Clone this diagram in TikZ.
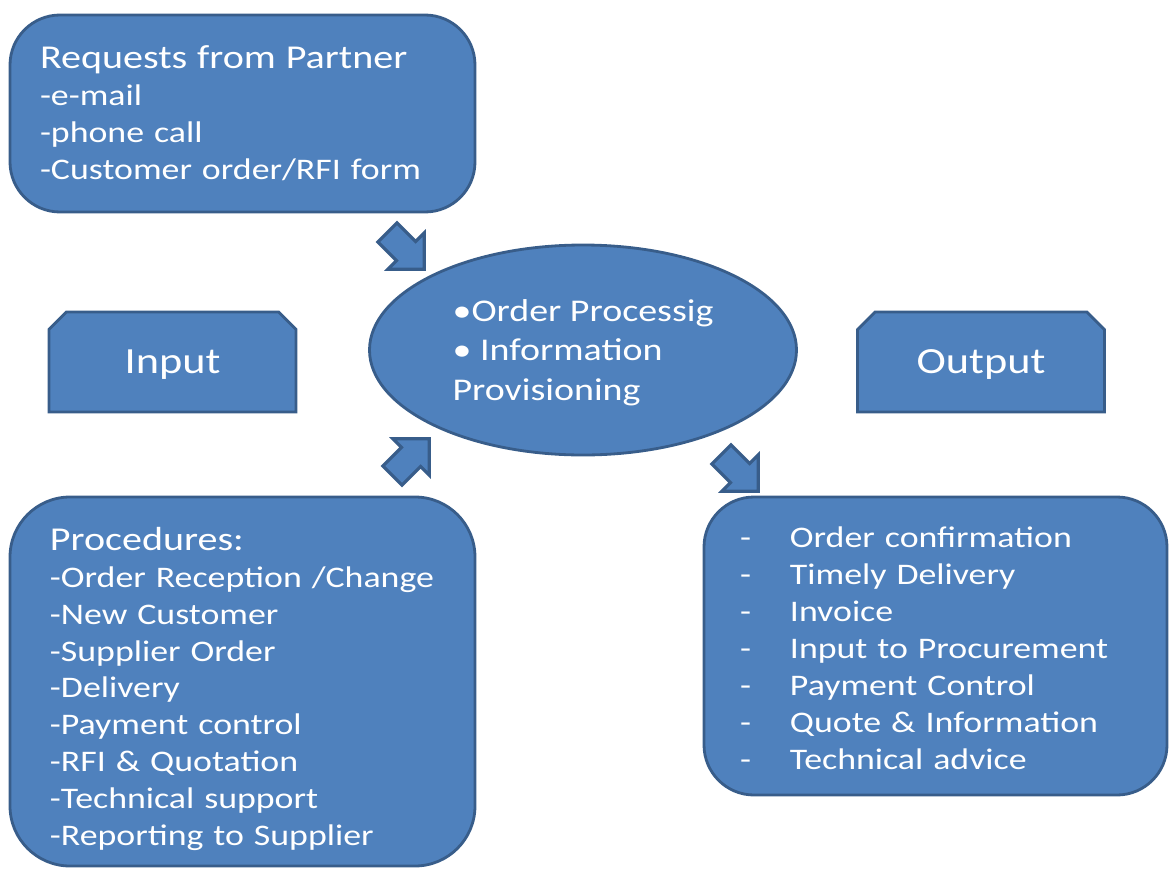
\documentclass[tikz,border=0pt]{standalone}
\usepackage{fontspec}
\setmainfont[FakeStretch=1.2]{Carlito}
\usetikzlibrary{shapes.geometric,shapes.misc,shapes.arrows}
\definecolor{boxfill}{HTML}{4F81BD}
\definecolor{boxline}{HTML}{385D8A}
\newcommand{\dashitem}{\makebox[1cm][l]{-}}
\newcommand{\paneltitle}[1]{{\fontsize{19pt}{22pt}\selectfont #1}}

\begin{document}
\begin{tikzpicture}[x=0.02cm,y=-0.02cm]
  \def\f{0.02}

\tikzstyle{panel}=[rectangle,rounded corners=50*\f cm,draw=boxline,fill=boxfill,line width=1.6pt,
  text=white,align=left,font=\fontsize{17pt}{21pt}\selectfont]
\tikzstyle{snipbox}=[chamfered rectangle,chamfered rectangle corners={north west,north east},
  chamfered rectangle xsep=20*\f cm,draw=boxline,fill=boxfill,line width=1.6pt,text=white,text depth=0pt,
  minimum width=247*\f cm,minimum height=100*\f cm,inner sep=0pt,font=\fontsize{21pt}{24pt}\selectfont]
\tikzstyle{blockarrow}=[single arrow,draw=boxline,fill=boxfill,line width=1.8pt,inner xsep=0pt,
  inner ysep=12*\f cm,text height=0pt,text depth=0pt,minimum height=52*\f cm,single arrow head extend=12*\f cm]
\useasboundingbox (0,0) rectangle (1170,869);

% requests from partner
\node[panel,minimum width=465*\f cm,minimum height=197*\f cm,inner xsep=30*\f cm,text width=405*\f cm] (requests) at (242.5,113.5)
  {\paneltitle{Requests from Partner}\\-e-mail\\-phone call\\-Customer order/RFI form};

% input / output
\node[snipbox] (input) at (172.5,362) {Input};
\node[snipbox] (output) at (981,362) {Output};

% processing
\node[ellipse,draw=boxline,fill=boxfill,line width=1.6pt,text=white,align=left,inner sep=0pt,text depth=0pt,
  minimum width=427*\f cm,minimum height=210*\f cm,font=\fontsize{18pt}{22.5pt}\selectfont] (process) at (583,350)
  {\textbullet Order Processig\\\textbullet{} Information\\Provisioning};

% procedures
\node[panel,rounded corners=60*\f cm,minimum width=465*\f cm,minimum height=369*\f cm,inner xsep=40*\f cm,text width=385*\f cm] (procedures) at (242.5,681.5)
  {\rule{0pt}{0.76cm}\paneltitle{Procedures:}\\-Order Reception /Change\\-New Customer\\-Supplier Order\\-Delivery\\-Payment control\\-RFI \& Quotation\\-Technical support\\-Reporting to Supplier};

% results
\node[panel,minimum width=463*\f cm,minimum height=298*\f cm,inner xsep=36*\f cm,text width=391*\f cm] (results) at (935.5,646)
  {\rule{0pt}{0.5cm}\dashitem Order confirmation\\\dashitem Timely Delivery\\\dashitem Invoice\\\dashitem Input to Procurement\\
   \dashitem Payment Control\\\dashitem Quote \& Information\\\dashitem Technical advice};

% arrows
\node[blockarrow,rotate=-45] (a1) at (401,246) {};
\node[blockarrow,rotate=45] (a2) at (406,462) {};
\node[blockarrow,rotate=-45] (a3) at (735,468) {};
\end{tikzpicture}
\end{document}
